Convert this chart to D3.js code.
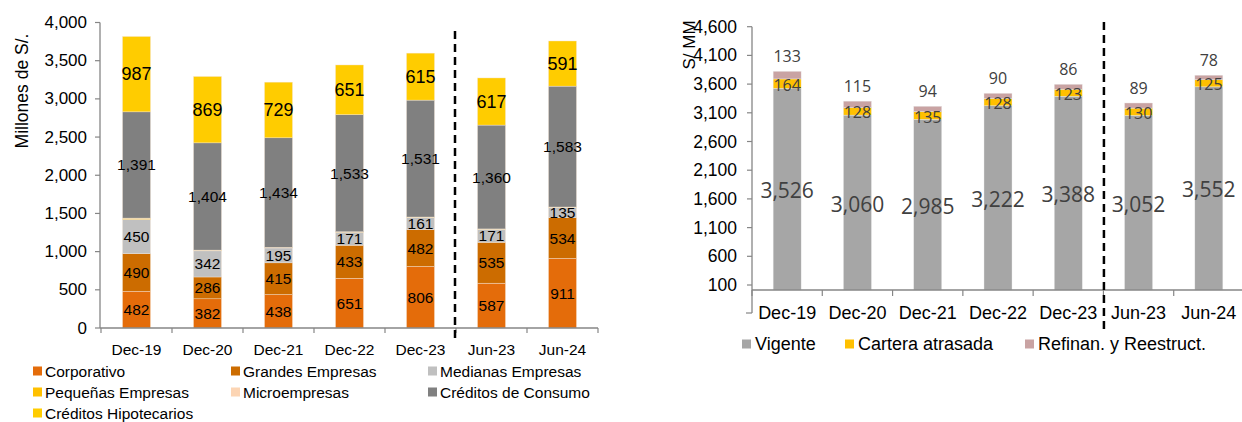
<!DOCTYPE html>
<html><head><meta charset="utf-8">
<script src="https://cdn.jsdelivr.net/npm/d3@7"></script>
<style>
html,body{margin:0;padding:0;background:#fff;}
svg{display:block;font-family:"Liberation Sans",Arial,sans-serif;}
</style></head>
<body>
<svg id="c" width="1242" height="422"></svg>
<script>
// ---------- DATA ----------
const categories = ["Dec-19","Dec-20","Dec-21","Dec-22","Dec-23","Jun-23","Jun-24"];
// Left chart (Millones de S/.)
const corporativo  = [482, 382, 438, 651, 806, 587, 911];
const grandes      = [490, 286, 415, 433, 482, 535, 534];
const medianas     = [450, 342, 195, 171, 161, 171, 135];
const pequenas     = [15, 8, 6, 4, 3, 3, 3];
const micro        = [2, 2, 2, 1, 1, 1, 1];
const consumo      = [1391, 1404, 1434, 1533, 1531, 1360, 1583];
const hipotecarios = [987, 869, 729, 651, 615, 617, 591];
const leftSeriesNames = ["Corporativo","Grandes Empresas","Medianas Empresas","Pequeñas Empresas","Microempresas","Créditos de Consumo","Créditos Hipotecarios"];
const leftTicks = [0,500,1000,1500,2000,2500,3000,3500,4000];
// Right chart (S/ MM)
const vigente  = [3526, 3060, 2985, 3222, 3388, 3052, 3552];
const atrasada = [164, 128, 135, 128, 123, 130, 125];
const refinan  = [133, 115, 94, 90, 86, 89, 78];
const rightSeriesNames = ["Vigente","Cartera atrasada","Refinan. y Reestruct."];
const rightTicks = [100,600,1100,1600,2100,2600,3100,3600,4100,4600];

// ---------- STYLE ----------
const leftColors = ["#E46C0A","#CC6C00","#C0C0C0","#FFC000","#FCD5B4","#808080","#FFCC00"];
const rightColors = ["#A6A6A6","#FFC000","#C9A3A3"];
const axisColor = "#868686";
const fmt = d3.format(",");
const svg = d3.select("#c");

// ================= LEFT CHART =================
{
  const x = d3.scaleBand().domain(categories).range([101, 598]).padding(0);
  const y = d3.scaleLinear().domain([0, 4000]).range([328, 22.5]);
  const bw = 28;
  const rows = categories.map((c,i)=>({cat:c, s0:corporativo[i], s1:grandes[i], s2:medianas[i], s3:pequenas[i], s4:micro[i], s5:consumo[i], s6:hipotecarios[i]}));
  const keys = ["s0","s1","s2","s3","s4","s5","s6"];
  const stack = d3.stack().keys(keys)(rows);
  const g = svg.append("g");

  stack.forEach((layer, li) => {
    g.append("g").selectAll("rect").data(layer).join("rect")
      .attr("x", d => x(d.data.cat) + x.bandwidth()/2 - bw/2)
      .attr("width", bw)
      .attr("y", d => y(d[1]))
      .attr("height", d => y(d[0]) - y(d[1]))
      .attr("fill", leftColors[li])
      .attr("stroke", "#f4e6d8").attr("stroke-width", 0.4);
  });
  // labels
  const labelKeys = [0,1,2,5,6];
  labelKeys.forEach(li => {
    const layer = stack[li];
    g.append("g").selectAll("text").data(layer).join("text")
      .attr("x", d => x(d.data.cat) + x.bandwidth()/2)
      .attr("y", d => (y(d[0]) + y(d[1]))/2)
      .attr("text-anchor","middle").attr("dominant-baseline","central")
      .attr("font-size", li === 6 ? 18 : 15.5)
      .attr("fill","#000")
      .text(d => fmt(d.data[keys[li]]));
  });

  // axes
  g.append("line").attr("x1",100).attr("x2",100).attr("y1",y(4000)).attr("y2",y(0)).attr("stroke",axisColor).attr("stroke-width",1.3);
  g.append("line").attr("x1",100).attr("x2",598).attr("y1",y(0)).attr("y2",y(0)).attr("stroke",axisColor).attr("stroke-width",1.3);
  g.append("g").selectAll("line").data(leftTicks).join("line")
    .attr("x1",95).attr("x2",100).attr("y1",d=>y(d)).attr("y2",d=>y(d)).attr("stroke",axisColor).attr("stroke-width",1.2);
  g.append("g").selectAll("text").data(leftTicks).join("text")
    .attr("x",87).attr("y",d=>y(d)).attr("text-anchor","end").attr("dominant-baseline","central")
    .attr("font-size",17).attr("fill","#000").text(d=>fmt(d));
  const bounds = categories.map(c=>x(c)).concat([x.range()[1]]);
  g.append("g").selectAll("line").data(bounds).join("line")
    .attr("x1",d=>d).attr("x2",d=>d).attr("y1",y(0)).attr("y2",y(0)+5).attr("stroke",axisColor).attr("stroke-width",1.2);
  g.append("g").selectAll("text").data(categories).join("text")
    .attr("x",d=>x(d)+x.bandwidth()/2).attr("y",349).attr("text-anchor","middle").attr("dominant-baseline","central")
    .attr("font-size",15.5).attr("fill","#000").text(d=>d);
  g.append("text").attr("transform","translate(22,91) rotate(-90)")
    .attr("text-anchor","middle").attr("dominant-baseline","central")
    .attr("font-size",17.5).attr("fill","#000").text("Millones de S/.");
  // dashed separator
  const sepX = (x("Dec-23") + x.bandwidth() + x("Jun-23"))/2 ;
  g.append("line").attr("x1",sepX-1).attr("x2",sepX-1).attr("y1",31).attr("y2",343)
    .attr("stroke","#000").attr("stroke-width",2.5).attr("stroke-dasharray","8,5");

  // legend
  const legPos = [[33,371],[231,371],[428,371],[33,392],[231,392],[428,392],[33,413]];
  leftSeriesNames.forEach((n,i)=>{
    const [lx,ly] = legPos[i];
    g.append("rect").attr("x",lx).attr("y",ly-4.5).attr("width",9).attr("height",9).attr("fill",leftColors[i]);
    g.append("text").attr("x",lx+12).attr("y",ly).attr("dominant-baseline","central")
      .attr("font-size",15.5).attr("fill","#000").text(n);
  });
}

// ================= RIGHT CHART =================
{
  const x = d3.scaleBand().domain(categories).range([752, 1244]).padding(0);
  const y = d3.scaleLinear().domain([13, 4600]).range([290, 26.7]).clamp(true);
  const bw = 28;
  const rows = categories.map((c,i)=>({cat:c, v:vigente[i], a:atrasada[i], r:refinan[i]}));
  const keys = ["v","a","r"];
  const stack = d3.stack().keys(keys)(rows);
  const g = svg.append("g");

  stack.forEach((layer, li) => {
    g.append("g").selectAll("rect").data(layer).join("rect")
      .attr("x", d => x(d.data.cat) + x.bandwidth()/2 - bw/2)
      .attr("width", bw)
      .attr("y", d => y(d[1]))
      .attr("height", d => y(d[0]) - y(d[1]))
      .attr("fill", rightColors[li])
      .attr("stroke","#ececec").attr("stroke-width",0.4);
  });
  const lf = "'Open Sans','Noto Sans',sans-serif";
  // vigente labels
  g.append("g").selectAll("text").data(stack[0]).join("text")
    .attr("x", d => x(d.data.cat) + x.bandwidth()/2)
    .attr("y", d => (y(d[0]) + y(d[1]))/2 + 1)
    .attr("text-anchor","middle").attr("dominant-baseline","central")
    .attr("font-family", lf).attr("font-size",21).attr("fill","#404040")
    .text(d => fmt(d.data.v));
  // atrasada labels
  g.append("g").selectAll("text").data(stack[1]).join("text")
    .attr("x", d => x(d.data.cat) + x.bandwidth()/2)
    .attr("y", d => (y(d[0]) + y(d[1]))/2 + 1)
    .attr("text-anchor","middle").attr("dominant-baseline","central")
    .attr("font-family", lf).attr("font-size",16).attr("fill","#404040")
    .text(d => fmt(d.data.a));
  // refinan labels (above bar)
  g.append("g").selectAll("text").data(stack[2]).join("text")
    .attr("x", d => x(d.data.cat) + x.bandwidth()/2)
    .attr("y", d => y(d[1]) - 15)
    .attr("text-anchor","middle").attr("dominant-baseline","central")
    .attr("font-family", lf).attr("font-size",16).attr("fill","#404040")
    .text(d => fmt(d.data.r));

  // axes
  g.append("line").attr("x1",752).attr("x2",752).attr("y1",y(4600)).attr("y2",313).attr("stroke",axisColor).attr("stroke-width",1.3);
  g.append("line").attr("x1",746).attr("x2",752).attr("y1",313).attr("y2",313).attr("stroke",axisColor).attr("stroke-width",1.2);
  g.append("line").attr("x1",752).attr("x2",1242).attr("y1",y(13)).attr("y2",y(13)).attr("stroke",axisColor).attr("stroke-width",1.3);
  g.append("g").selectAll("line").data(rightTicks).join("line")
    .attr("x1",747).attr("x2",752).attr("y1",d=>y(d)).attr("y2",d=>y(d)).attr("stroke",axisColor).attr("stroke-width",1.2);
  g.append("g").selectAll("text").data(rightTicks).join("text")
    .attr("x",737).attr("y",d=>y(d)).attr("text-anchor","end").attr("dominant-baseline","central")
    .attr("font-size",17.5).attr("fill","#000").text(d=>fmt(d));
  const bounds = categories.map(c=>x(c)).concat([x.range()[1]]);
  g.append("g").selectAll("line").data(bounds).join("line")
    .attr("x1",d=>d).attr("x2",d=>d).attr("y1",y(13)).attr("y2",y(13)+6).attr("stroke",axisColor).attr("stroke-width",1.2);
  g.append("g").selectAll("text").data(categories).join("text")
    .attr("x",d=>x(d)+x.bandwidth()/2).attr("y",313).attr("text-anchor","middle").attr("dominant-baseline","central")
    .attr("font-size",18).attr("fill","#000").text(d=>d);
  g.append("text").attr("transform","translate(689,45) rotate(-90)")
    .attr("text-anchor","middle").attr("dominant-baseline","central")
    .attr("font-size",17).attr("fill","#000").text("S/ MM");
  const sepX = (x("Dec-23") + x.bandwidth() + x("Jun-23"))/2;
  g.append("line").attr("x1",sepX+0.5).attr("x2",sepX+0.5).attr("y1",22).attr("y2",334)
    .attr("stroke","#000").attr("stroke-width",2.5).attr("stroke-dasharray","8,5");

  // legend
  const legX = [742, 845, 1025];
  rightSeriesNames.forEach((n,i)=>{
    g.append("rect").attr("x",legX[i]).attr("y",339.5).attr("width",9).attr("height",9).attr("fill",rightColors[i]);
    g.append("text").attr("x",legX[i]+13).attr("y",344).attr("dominant-baseline","central")
      .attr("font-size",18).attr("fill","#000").text(n);
  });
}
</script>
</body></html>
